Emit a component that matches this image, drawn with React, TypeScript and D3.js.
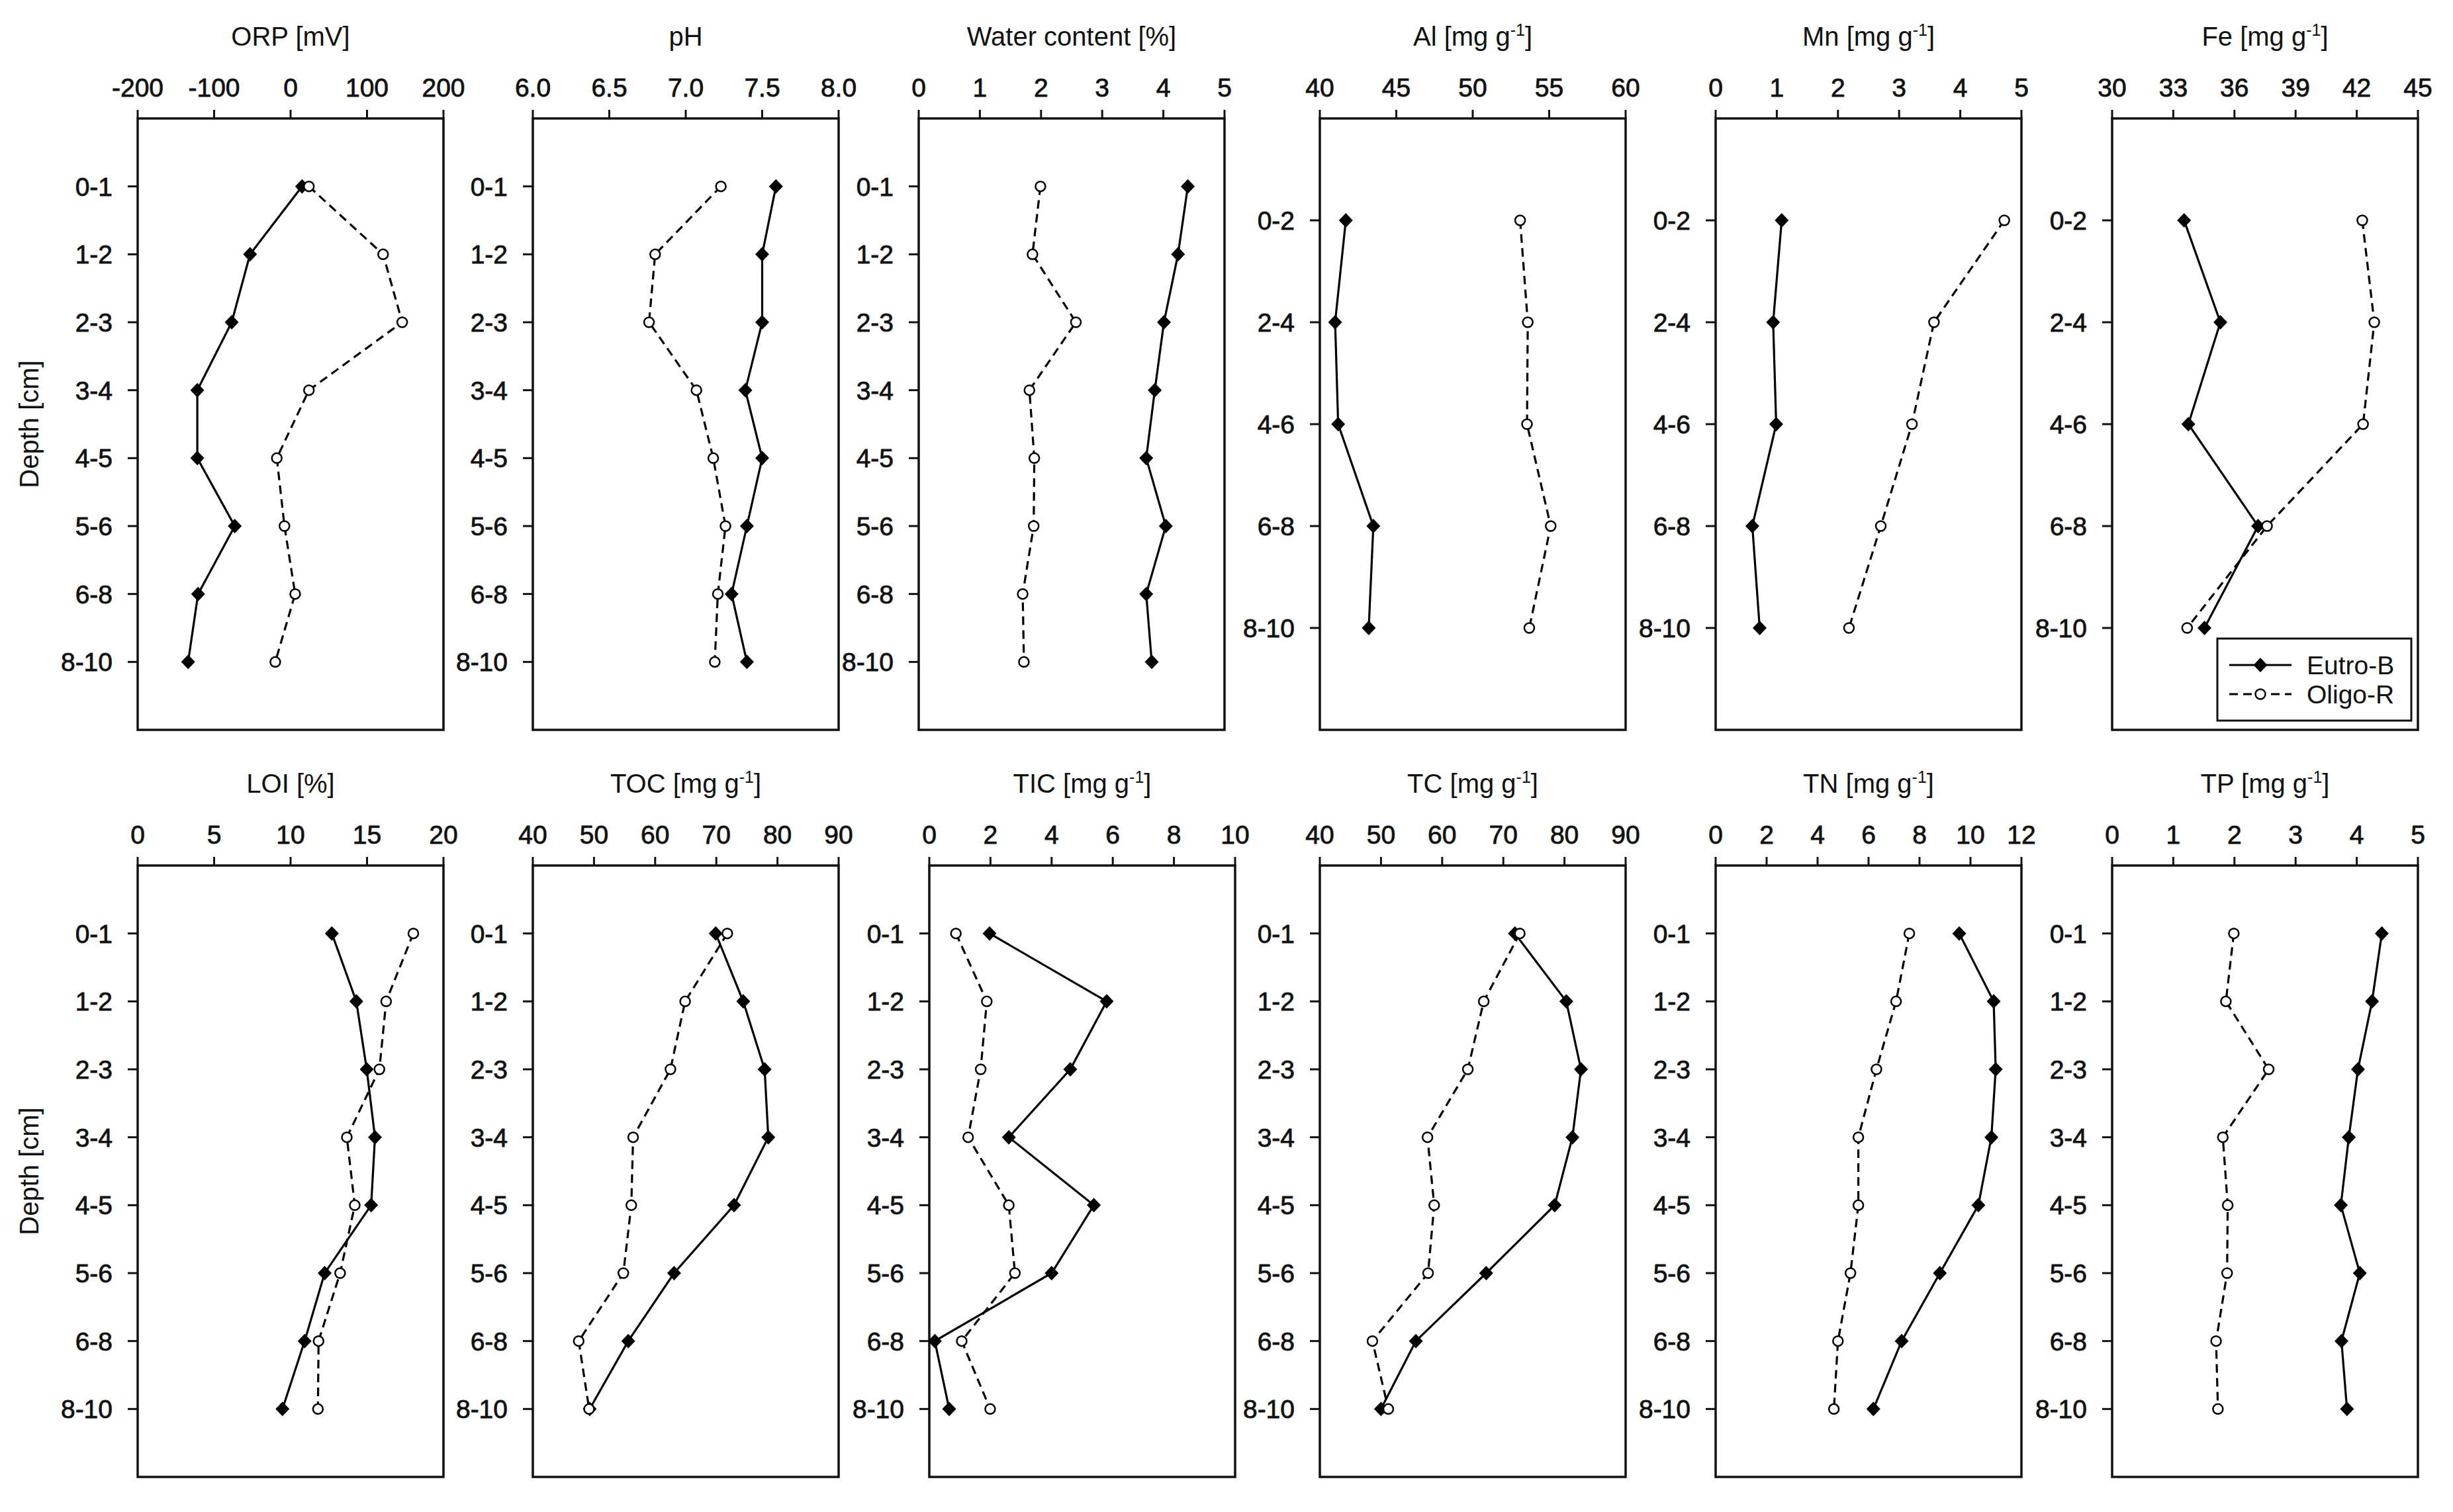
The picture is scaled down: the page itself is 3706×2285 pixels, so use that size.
import React from "react";
import * as d3 from "d3";

// ---------- data ----------
const depth8 = ["0-1", "1-2", "2-3", "3-4", "4-5", "5-6", "6-8", "8-10"];
const depth5 = ["0-2", "2-4", "4-6", "6-8", "8-10"];

const orpEutro = [15, -53, -77, -122, -122, -73, -121, -134];
const orpOligo = [24, 121, 146, 24, -18, -8, 6, -20];
const phEutro = [7.59, 7.5, 7.5, 7.39, 7.5, 7.4, 7.3, 7.4];
const phOligo = [7.23, 6.8, 6.76, 7.07, 7.18, 7.26, 7.21, 7.19];
const waterEutro = [4.4, 4.24, 4.01, 3.86, 3.72, 4.04, 3.72, 3.81];
const waterOligo = [1.99, 1.86, 2.57, 1.81, 1.89, 1.88, 1.7, 1.72];
const alEutro = [41.7, 41.0, 41.2, 43.5, 43.2];
const alOligo = [53.1, 53.6, 53.55, 55.1, 53.7];
const mnEutro = [1.08, 0.94, 0.99, 0.6, 0.72];
const mnOligo = [4.72, 3.57, 3.21, 2.7, 2.18];
const feEutro = [33.53, 35.31, 33.74, 37.16, 34.53];
const feOligo = [42.27, 42.86, 42.31, 37.6, 33.68];
const loiEutro = [12.7, 14.3, 14.98, 15.52, 15.27, 12.23, 10.92, 9.47];
const loiOligo = [18.03, 16.25, 15.81, 13.68, 14.2, 13.24, 11.83, 11.79];
const tocEutro = [69.9, 74.4, 77.9, 78.5, 72.9, 63.1, 55.6, 49.3];
const tocOligo = [71.8, 64.9, 62.5, 56.4, 56.1, 54.8, 47.5, 49.2];
const ticEutro = [1.97, 5.8, 4.61, 2.6, 5.38, 4.0, 0.18, 0.65];
const ticOligo = [0.87, 1.88, 1.68, 1.27, 2.6, 2.8, 1.06, 1.99];
const tcEutro = [71.9, 80.3, 82.7, 81.3, 78.4, 67.2, 55.7, 50.0];
const tcOligo = [72.7, 66.8, 64.2, 57.6, 58.7, 57.7, 48.6, 51.2];
const tnEutro = [9.56, 10.91, 10.99, 10.82, 10.31, 8.8, 7.3, 6.19];
const tnOligo = [7.6, 7.08, 6.31, 5.6, 5.6, 5.29, 4.8, 4.64];
const tpEutro = [4.41, 4.25, 4.02, 3.87, 3.74, 4.05, 3.75, 3.84];
const tpOligo = [1.99, 1.86, 2.56, 1.81, 1.89, 1.88, 1.7, 1.73];

const orpTicks = [-200, -100, 0, 100, 200];
const phTicks = [6.0, 6.5, 7.0, 7.5, 8.0];
const waterTicks = [0, 1, 2, 3, 4, 5];
const alTicks = [40, 45, 50, 55, 60];
const mnTicks = [0, 1, 2, 3, 4, 5];
const feTicks = [30, 33, 36, 39, 42, 45];
const loiTicks = [0, 5, 10, 15, 20];
const tocTicks = [40, 50, 60, 70, 80, 90];
const ticTicks = [0, 2, 4, 6, 8, 10];
const tcTicks = [40, 50, 60, 70, 80, 90];
const tnTicks = [0, 2, 4, 6, 8, 10, 12];
const tpTicks = [0, 1, 2, 3, 4, 5];

const seriesNames = ["Eutro-B", "Oligo-R"];

type Panel = {
  title: string;
  unit: boolean; // mg g-1
  ticks: number[];
  fmt: (v: number) => string;
  cats: string[];
  eutro: number[];
  oligo: number[];
  legend?: boolean;
};

const intF = (v: number) => String(v);
const oneF = (v: number) => v.toFixed(1);

const panels: Panel[] = [
  { title: "ORP [mV]", unit: false, ticks: orpTicks, fmt: intF, cats: depth8, eutro: orpEutro, oligo: orpOligo },
  { title: "pH", unit: false, ticks: phTicks, fmt: oneF, cats: depth8, eutro: phEutro, oligo: phOligo },
  { title: "Water content [%]", unit: false, ticks: waterTicks, fmt: intF, cats: depth8, eutro: waterEutro, oligo: waterOligo },
  { title: "Al", unit: true, ticks: alTicks, fmt: intF, cats: depth5, eutro: alEutro, oligo: alOligo },
  { title: "Mn", unit: true, ticks: mnTicks, fmt: intF, cats: depth5, eutro: mnEutro, oligo: mnOligo },
  { title: "Fe", unit: true, ticks: feTicks, fmt: intF, cats: depth5, eutro: feEutro, oligo: feOligo, legend: true },
  { title: "LOI [%]", unit: false, ticks: loiTicks, fmt: intF, cats: depth8, eutro: loiEutro, oligo: loiOligo },
  { title: "TOC", unit: true, ticks: tocTicks, fmt: intF, cats: depth8, eutro: tocEutro, oligo: tocOligo },
  { title: "TIC", unit: true, ticks: ticTicks, fmt: intF, cats: depth8, eutro: ticEutro, oligo: ticOligo },
  { title: "TC", unit: true, ticks: tcTicks, fmt: intF, cats: depth8, eutro: tcEutro, oligo: tcOligo },
  { title: "TN", unit: true, ticks: tnTicks, fmt: intF, cats: depth8, eutro: tnEutro, oligo: tnOligo },
  { title: "TP", unit: true, ticks: tpTicks, fmt: intF, cats: depth8, eutro: tpEutro, oligo: tpOligo },
];

// ---------- layout ----------
const W = 3706;
const H = 2285;
const colLefts = [
  [208, 805, 1388, 1994, 2592, 3191],
  [208, 805, 1404, 1994, 2592, 3191],
];
const rowTops = [179, 1308];
const boxW = 462;
const boxH = 924;
const FONT = "'Liberation Sans', Arial, Helvetica, sans-serif";
const TICK_FS = 39;
const TITLE_FS = 40;

const diamond = (x: number, y: number) =>
  `M${x},${y - 11}L${x + 10.5},${y}L${x},${y + 11}L${x - 10.5},${y}Z`;

function Title({ p, x, y }: { p: Panel; x: number; y: number }) {
  if (!p.unit) {
    return (
      <text x={x} y={y} textAnchor="middle" fontSize={TITLE_FS} fontFamily={FONT} fill="#111">
        {p.title}
      </text>
    );
  }
  return (
    <text x={x} y={y} textAnchor="middle" fontSize={TITLE_FS} fontFamily={FONT} fill="#111">
      <tspan>{p.title + " [mg g"}</tspan>
      <tspan dy={-15} fontSize={25}>-1</tspan>
      <tspan dy={15}>]</tspan>
    </text>
  );
}

function PanelView({ p, idx }: { p: Panel; idx: number }) {
  const col = idx % 6;
  const row = Math.floor(idx / 6);
  const left = colLefts[row][col];
  const top = rowTops[row];
  const right = left + boxW;
  const bottom = top + boxH;

  const x = d3
    .scaleLinear()
    .domain([p.ticks[0], p.ticks[p.ticks.length - 1]])
    .range([left, right]);
  const y = d3.scalePoint<string>().domain(p.cats).range([top, bottom]).padding(1);

  const line = d3
    .line<number>()
    .x((d) => x(d))
    .y((_, i) => y(p.cats[i]) as number);

  const legendRight = right - 10;
  const legendBottom = bottom - 14;
  const legendW = 293;
  const legendH = 124;

  return (
    <g>
      <Title p={p} x={(left + right) / 2} y={top - 110} />
      {/* x ticks */}
      {p.ticks.map((t) => (
        <g key={"xt" + t}>
          <line x1={x(t)} x2={x(t)} y1={top} y2={top - 13} stroke="#111" strokeWidth={3} />
          <text
            x={x(t)}
            y={top - 33}
            textAnchor="middle"
            fontSize={TICK_FS}
            fontFamily={FONT}
            fill="#111"
            stroke="#111"
            strokeWidth={0.8}
          >
            {p.fmt(t)}
          </text>
        </g>
      ))}
      {/* y ticks */}
      {p.cats.map((c) => (
        <g key={"yt" + c}>
          <line x1={left} x2={left - 15} y1={y(c)} y2={y(c)} stroke="#111" strokeWidth={3} />
          <text
            x={left - 38}
            y={(y(c) as number) + 14}
            textAnchor="end"
            fontSize={TICK_FS}
            fontFamily={FONT}
            fill="#111"
            stroke="#111"
            strokeWidth={0.8}
          >
            {c}
          </text>
        </g>
      ))}
      {/* box */}
      <rect x={left} y={top} width={boxW} height={boxH} fill="none" stroke="#111" strokeWidth={3.5} />
      {/* Eutro-B */}
      <path d={line(p.eutro) || ""} fill="none" stroke="#000" strokeWidth={3.2} />
      {p.eutro.map((v, i) => (
        <path key={"e" + i} d={diamond(x(v), y(p.cats[i]) as number)} fill="#000" />
      ))}
      {/* Oligo-R */}
      <path d={line(p.oligo) || ""} fill="none" stroke="#000" strokeWidth={3.2} strokeDasharray="13,8" />
      {p.oligo.map((v, i) => (
        <circle key={"o" + i} cx={x(v)} cy={y(p.cats[i]) as number} r={7.5} fill="#fff" stroke="#000" strokeWidth={2.5} />
      ))}
      {p.legend && (
        <g>
          <rect
            x={legendRight - legendW}
            y={legendBottom - legendH}
            width={legendW}
            height={legendH}
            fill="#fff"
            stroke="#111"
            strokeWidth={3}
          />
          {seriesNames.map((name, i) => {
            const ly = legendBottom - legendH + 40 + i * 44;
            const lx1 = legendRight - legendW + 18;
            const lx2 = lx1 + 94;
            const mx = (lx1 + lx2) / 2;
            return (
              <g key={name}>
                <line
                  x1={lx1}
                  x2={lx2}
                  y1={ly}
                  y2={ly}
                  stroke="#000"
                  strokeWidth={3}
                  strokeDasharray={i === 1 ? "13,8" : undefined}
                />
                {i === 0 ? (
                  <path d={diamond(mx, ly)} fill="#000" />
                ) : (
                  <circle cx={mx} cy={ly} r={7.5} fill="#fff" stroke="#000" strokeWidth={2.5} />
                )}
                <text x={lx2 + 23} y={ly + 14} fontSize={TICK_FS} fontFamily={FONT} fill="#111">
                  {name}
                </text>
              </g>
            );
          })}
        </g>
      )}
    </g>
  );
}

export default function App() {
  return (
    <svg
      width={W}
      height={H}
      viewBox={`0 0 ${W} ${H}`}
      style={{ position: "absolute", left: 0, top: 0, background: "#fff" }}
    >
      <rect x={0} y={0} width={W} height={H} fill="#fff" />
      {rowTops.map((t, r) => (
        <text
          key={"dl" + r}
          transform={`translate(${58},${t + boxH / 2}) rotate(-90)`}
          textAnchor="middle"
          fontSize={TITLE_FS}
          fontFamily={FONT}
          fill="#111"
        >
          Depth [cm]
        </text>
      ))}
      {panels.map((p, i) => (
        <PanelView key={p.title} p={p} idx={i} />
      ))}
    </svg>
  );
}
